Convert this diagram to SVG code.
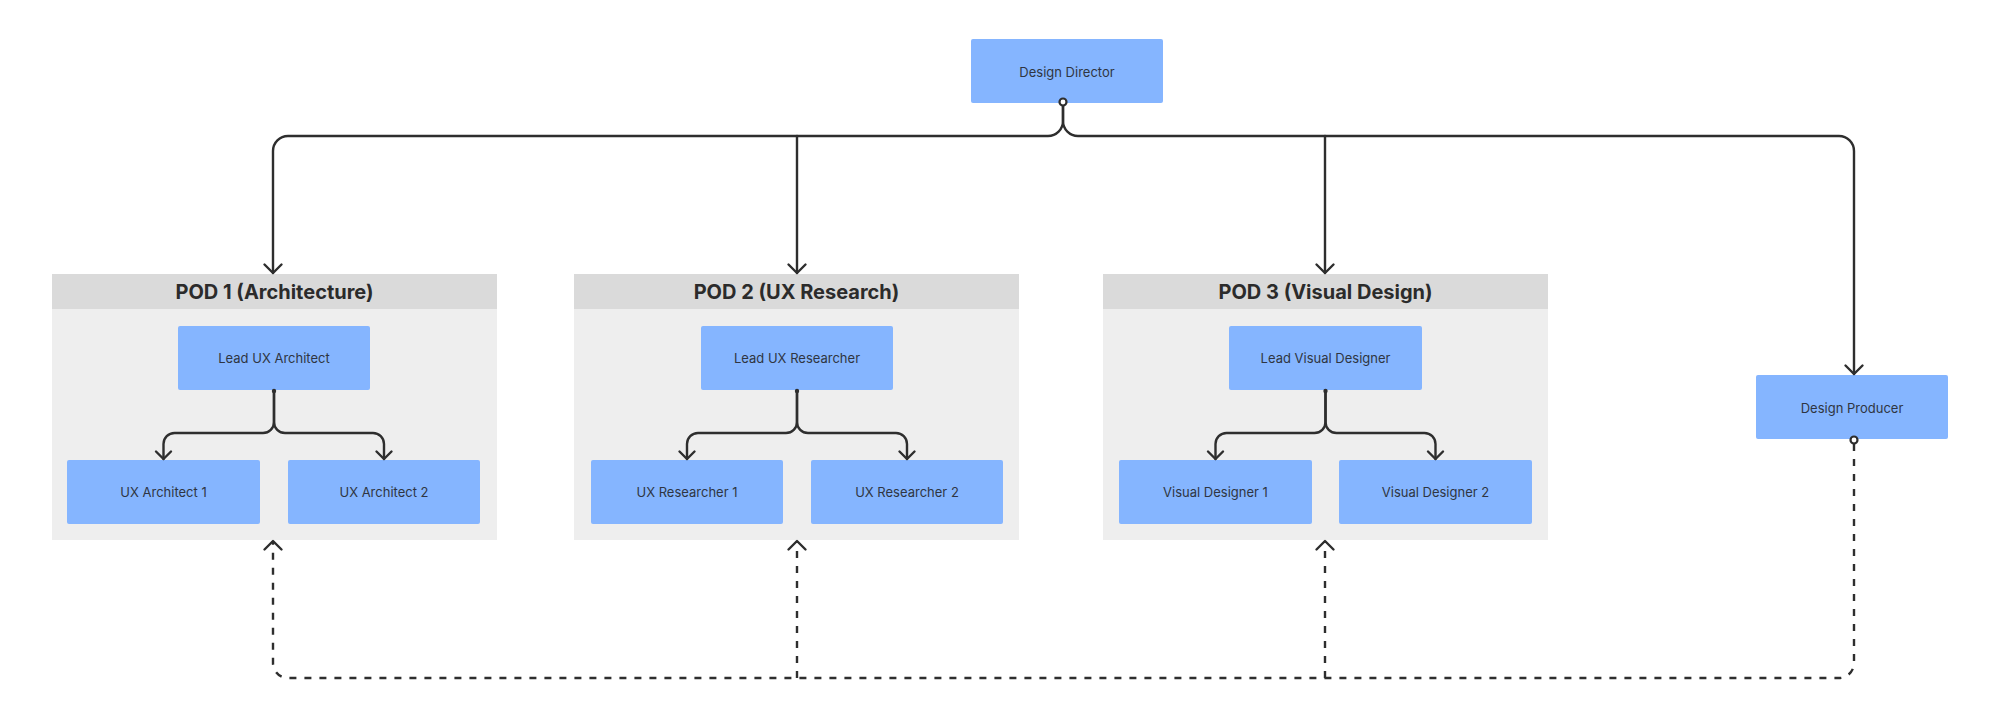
<svg xmlns="http://www.w3.org/2000/svg" width="2000" height="718" viewBox="0 0 2000 718">
  <style>
    .node { fill: #85b5ff; }
    .lbl { font-family: Inter, "Noto Sans", "Liberation Sans", sans-serif; font-size: 13px; fill: #2f3542; text-anchor: middle; dominant-baseline: central; }
    .pod-body { fill: #eeeeee; }
    .pod-head { fill: #dadada; }
    .pod-title { font-family: Inter, "Noto Sans", "Liberation Sans", sans-serif; font-size: 20px; font-weight: 700; fill: #2b2b2b; text-anchor: middle; dominant-baseline: central; }
    .edge { fill: none; stroke: #2e2e2e; stroke-width: 2.4; stroke-linecap: round; stroke-linejoin: round; }
    .dash { stroke-dasharray: 7 8; stroke-linecap: butt; }
    .ring { fill: #ffffff; stroke: #2e2e2e; stroke-width: 2.2; }
    .dot { fill: #2e2e2e; }
  </style>
  <defs>
    <marker id="arrow" markerUnits="userSpaceOnUse" markerWidth="24" markerHeight="24" viewBox="-12 -12 24 24" refX="0" refY="0" orient="auto">
      <path d="M-8.5,-8.5 L0,0 L-8.5,8.5" fill="none" stroke="#2e2e2e" stroke-width="2.4" stroke-linecap="round" stroke-linejoin="round"/>
    </marker>
    <marker id="arrowS" markerUnits="userSpaceOnUse" markerWidth="24" markerHeight="24" viewBox="-12 -12 24 24" refX="0" refY="0" orient="auto">
      <path d="M-7.5,-7.5 L0,0 L-7.5,7.5" fill="none" stroke="#2e2e2e" stroke-width="2.4" stroke-linecap="round" stroke-linejoin="round"/>
    </marker>
  </defs>
  <rect width="2000" height="718" fill="#ffffff"/>

  <g id="pod1">
    <rect class="pod-body" x="52" y="274" width="445" height="266"/>
    <rect class="pod-head" x="52" y="274" width="445" height="35"/>
    <text class="pod-title" x="274.5" y="292">POD 1 (Architecture)</text>
  </g>
  <g id="pod2">
    <rect class="pod-body" x="574" y="274" width="445" height="266"/>
    <rect class="pod-head" x="574" y="274" width="445" height="35"/>
    <text class="pod-title" x="796.5" y="292">POD 2 (UX Research)</text>
  </g>
  <g id="pod3">
    <rect class="pod-body" x="1103" y="274" width="445" height="266"/>
    <rect class="pod-head" x="1103" y="274" width="445" height="35"/>
    <text class="pod-title" x="1325.5" y="292">POD 3 (Visual Design)</text>
  </g>

  <g id="design-director">
    <rect class="node" x="971" y="39" width="192" height="64" rx="2"/>
    <text class="lbl" x="1067" y="71.5">Design Director</text>
  </g>
  <g id="design-producer">
    <rect class="node" x="1756" y="375" width="192" height="64" rx="2"/>
    <text class="lbl" x="1852" y="407.5">Design Producer</text>
  </g>

  <g id="lead-ux-architect">
    <rect class="node" x="178" y="326" width="192" height="64" rx="2"/>
    <text class="lbl" x="274" y="358">Lead UX Architect</text>
  </g>
  <g id="ux-architect-1">
    <rect class="node" x="67" y="460" width="193" height="64" rx="2"/>
    <text class="lbl" x="163.5" y="492">UX Architect 1</text>
  </g>
  <g id="ux-architect-2">
    <rect class="node" x="288" y="460" width="192" height="64" rx="2"/>
    <text class="lbl" x="384" y="492">UX Architect 2</text>
  </g>

  <g id="lead-ux-researcher">
    <rect class="node" x="701" y="326" width="192" height="64" rx="2"/>
    <text class="lbl" x="797" y="358">Lead UX Researcher</text>
  </g>
  <g id="ux-researcher-1">
    <rect class="node" x="591" y="460" width="192" height="64" rx="2"/>
    <text class="lbl" x="687" y="492">UX Researcher 1</text>
  </g>
  <g id="ux-researcher-2">
    <rect class="node" x="811" y="460" width="192" height="64" rx="2"/>
    <text class="lbl" x="907" y="492">UX Researcher 2</text>
  </g>

  <g id="lead-visual-designer">
    <rect class="node" x="1229" y="326" width="193" height="64" rx="2"/>
    <text class="lbl" x="1325.5" y="358">Lead Visual Designer</text>
  </g>
  <g id="visual-designer-1">
    <rect class="node" x="1119" y="460" width="193" height="64" rx="2"/>
    <text class="lbl" x="1215.5" y="492">Visual Designer 1</text>
  </g>
  <g id="visual-designer-2">
    <rect class="node" x="1339" y="460" width="193" height="64" rx="2"/>
    <text class="lbl" x="1435.5" y="492">Visual Designer 2</text>
  </g>

  <g id="connectors">
    <!-- Director to pods and producer -->
    <path class="edge" d="M1063,106 V121 A15,15 0 0 1 1048,136 H288 A15,15 0 0 0 273,151 V273" marker-end="url(#arrow)"/>
    <path class="edge" d="M1063,106 V121 A15,15 0 0 0 1078,136 H1839 A15,15 0 0 1 1854,151 V374" marker-end="url(#arrow)"/>
    <path class="edge" d="M797,136 V273" marker-end="url(#arrow)"/>
    <path class="edge" d="M1325,136 V273" marker-end="url(#arrow)"/>
    <circle class="ring" cx="1063" cy="102" r="3.5"/>

    <!-- Pod 1 internal -->
    <path class="edge" d="M274,391 V422 A11,11 0 0 1 263,433 H174.5 A11,11 0 0 0 163.5,444 V459" marker-end="url(#arrowS)"/>
    <path class="edge" d="M274,391 V422 A11,11 0 0 0 285,433 H373 A11,11 0 0 1 384,444 V459" marker-end="url(#arrowS)"/>
    <circle class="dot" cx="274" cy="391" r="2.2"/>
    <!-- Pod 2 internal -->
    <path class="edge" d="M797,391 V422 A11,11 0 0 1 786,433 H698 A11,11 0 0 0 687,444 V459" marker-end="url(#arrowS)"/>
    <path class="edge" d="M797,391 V422 A11,11 0 0 0 808,433 H896 A11,11 0 0 1 907,444 V459" marker-end="url(#arrowS)"/>
    <circle class="dot" cx="797" cy="391" r="2.2"/>
    <!-- Pod 3 internal -->
    <path class="edge" d="M1325.5,391 V422 A11,11 0 0 1 1314.5,433 H1226.5 A11,11 0 0 0 1215.5,444 V459" marker-end="url(#arrowS)"/>
    <path class="edge" d="M1325.5,391 V422 A11,11 0 0 0 1336.5,433 H1424.5 A11,11 0 0 1 1435.5,444 V459" marker-end="url(#arrowS)"/>
    <circle class="dot" cx="1325.5" cy="391" r="2.2"/>

    <!-- Producer dashed links back to pods -->
    <path class="edge dash" d="M1854,444 V663 A15,15 0 0 1 1839,678 H288 A15,15 0 0 1 273,663 V541" marker-end="url(#arrow)"/>
    <path class="edge dash" d="M797,678 V541" marker-end="url(#arrow)"/>
    <path class="edge dash" d="M1325,678 V541" marker-end="url(#arrow)"/>
    <circle class="ring" cx="1854" cy="440" r="3.5"/>
  </g>
</svg>
